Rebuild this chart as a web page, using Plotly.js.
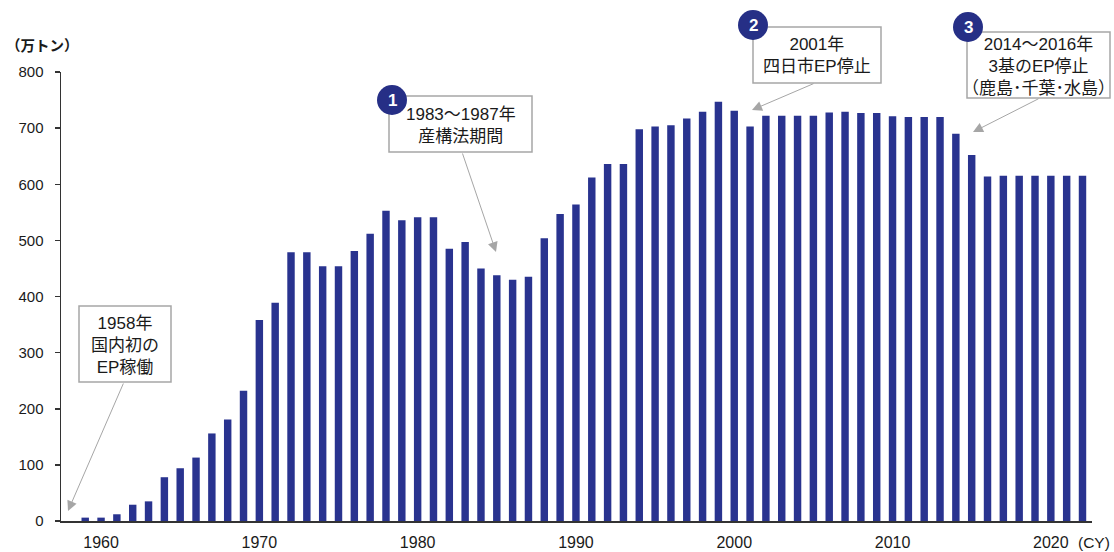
<!DOCTYPE html>
<html>
<head>
<meta charset="utf-8">
<script src="https://cdn.plot.ly/plotly-3.0.1.min.js"></script>
<style>
  html, body { margin: 0; padding: 0; background: #fff; }
  #chart { width: 1114px; height: 552px; }
</style>
</head>
<body>
<div id="chart"></div>
<script>
// Annual ethylene production capacity (万トン), calendar years
const years = [
  1959, 1960, 1961, 1962, 1963, 1964, 1965, 1966, 1967, 1968, 1969,
  1970, 1971, 1972, 1973, 1974, 1975, 1976, 1977, 1978, 1979,
  1980, 1981, 1982, 1983, 1984, 1985, 1986, 1987, 1988, 1989,
  1990, 1991, 1992, 1993, 1994, 1995, 1996, 1997, 1998, 1999,
  2000, 2001, 2002, 2003, 2004, 2005, 2006, 2007, 2008, 2009,
  2010, 2011, 2012, 2013, 2014, 2015, 2016, 2017, 2018, 2019,
  2020, 2021, 2022
];
const capacity = [
  6, 6, 12, 29, 35, 78, 94, 113, 156, 181, 232,
  358, 389, 479, 479, 454, 454, 481, 512, 553, 536,
  541, 541, 485, 497, 450, 438, 430, 435, 504, 547,
  564, 612, 636, 636, 698, 703, 705, 717, 729, 747,
  731, 703, 722, 722, 722, 722, 728, 729, 727, 727,
  721, 720, 720, 720, 690, 652, 614, 615, 615, 615,
  615, 615, 615
];
const yTicks = [0, 100, 200, 300, 400, 500, 600, 700, 800];
const xTicks = [1960, 1970, 1980, 1990, 2000, 2010, 2020];

const unitLabel = '（万トン）';
const yearLabel = '(CY)';
const noteNumbers = ['1', '2', '3'];
const noteTexts = [
  '1958年<br>国内初の<br>EP稼働',
  '1983～1987年<br>産構法期間',
  '2001年<br>四日市EP停止',
  '2014～2016年<br>3基のEP停止<br>（鹿島･千葉･水島）'
];

// plot frame in page pixels
const L = 61, R = 1092, T = 72, B = 521;
const px = x => (x - L) / (R - L);
const py = y => (B - y) / (B - T);

const FONT = 'Liberation Sans, Arial, "Noto Sans CJK JP", sans-serif';
const NAVY = '#29338F';
const GREY = '#A6A6A6';

// callout boxes [left, right, top, bottom] and their arrows [tailX, tailY, tipX, tipY]
const boxes = [
  [79, 171, 306, 382],
  [389, 532, 96, 152],
  [753, 881, 27, 83],
  [967, 1110, 32, 98]
];
const arrows = [
  [124, 382, 68, 511],
  [462, 152, 496, 252],
  [815, 83, 752, 110],
  [1040, 98, 973, 132]
];
const badges = [[392, 100], [753, 25], [968, 27]];
const BADGE_R = 15;

const shapes = [];
boxes.forEach(b => shapes.push({
  type: 'rect', xref: 'paper', yref: 'paper', layer: 'above',
  x0: px(b[0]), x1: px(b[1]), y0: py(b[3]), y1: py(b[2]),
  line: { color: GREY, width: 1.5 }, fillcolor: '#ffffff'
}));
badges.forEach(c => shapes.push({
  type: 'circle', xref: 'paper', yref: 'paper', layer: 'above',
  x0: px(c[0] - BADGE_R), x1: px(c[0] + BADGE_R),
  y0: py(c[1] + BADGE_R), y1: py(c[1] - BADGE_R),
  line: { width: 0 }, fillcolor: '#262F86'
}));

const annotations = [];
arrows.forEach(a => annotations.push({
  xref: 'paper', yref: 'paper', x: px(a[2]), y: py(a[3]),
  ax: a[0] - a[2], ay: a[1] - a[3], text: '',
  showarrow: true, arrowhead: 2, arrowsize: 2, arrowwidth: 1, arrowcolor: GREY,
  standoff: 0, startstandoff: 0
}));
boxes.forEach((b, i) => annotations.push({
  xref: 'paper', yref: 'paper',
  x: px((b[0] + b[1]) / 2), y: py((b[2] + b[3]) / 2 + 1),
  xanchor: 'center', yanchor: 'middle', align: 'center', showarrow: false,
  text: noteTexts[i], font: { family: FONT, size: 17, color: '#1a1a1a' }
}));
badges.forEach((c, i) => annotations.push({
  xref: 'paper', yref: 'paper', x: px(c[0]), y: py(c[1]),
  xanchor: 'center', yanchor: 'middle', showarrow: false,
  text: '<b>' + noteNumbers[i] + '</b>',
  font: { family: FONT, size: 17, color: '#ffffff' }
}));
annotations.push({
  xref: 'paper', yref: 'paper', x: px(4), y: py(46),
  xanchor: 'left', yanchor: 'middle', showarrow: false,
  text: '<b>' + unitLabel + '</b>',
  font: { family: FONT, size: 14.5, color: '#1a1a1a' }
});
annotations.push({
  xref: 'paper', yref: 'paper', x: px(1112), y: py(542),
  xanchor: 'right', yanchor: 'middle', showarrow: false,
  text: yearLabel, font: { family: FONT, size: 15.5, color: '#1a1a1a' }
});

const trace = {
  type: 'bar', x: years, y: capacity, width: 0.47,
  marker: { color: NAVY, line: { width: 0 } },
  hoverinfo: 'x+y'
};

const layout = {
  width: 1114, height: 552, autosize: false,
  margin: { l: L, r: 1114 - R, t: T, b: 552 - B, pad: 0 },
  paper_bgcolor: '#ffffff', plot_bgcolor: '#ffffff',
  showlegend: false,
  font: { family: FONT, color: '#1a1a1a' },
  xaxis: {
    range: [1957.47, 2022.6], tickmode: 'array', tickvals: xTicks,
    ticktext: xTicks.map(String), showgrid: false, zeroline: false,
    showline: true, linecolor: '#333333', linewidth: 1.5,
    ticks: '', tickfont: { family: FONT, size: 16, color: '#1a1a1a' },
    ticklabelstandoff: 6
  },
  yaxis: {
    range: [0, 800], tickmode: 'array', tickvals: yTicks,
    ticktext: yTicks.map(String), showgrid: false, zeroline: false,
    showline: true, linecolor: '#333333', linewidth: 1.5,
    ticks: 'outside', ticklen: 5, tickcolor: '#333333', tickwidth: 1.5,
    tickfont: { family: FONT, size: 15, color: '#1a1a1a' },
    ticklabelstandoff: 8
  },
  shapes: shapes,
  annotations: annotations
};

Plotly.newPlot('chart', [trace], layout, { displayModeBar: false, staticPlot: true });
</script>
</body>
</html>
